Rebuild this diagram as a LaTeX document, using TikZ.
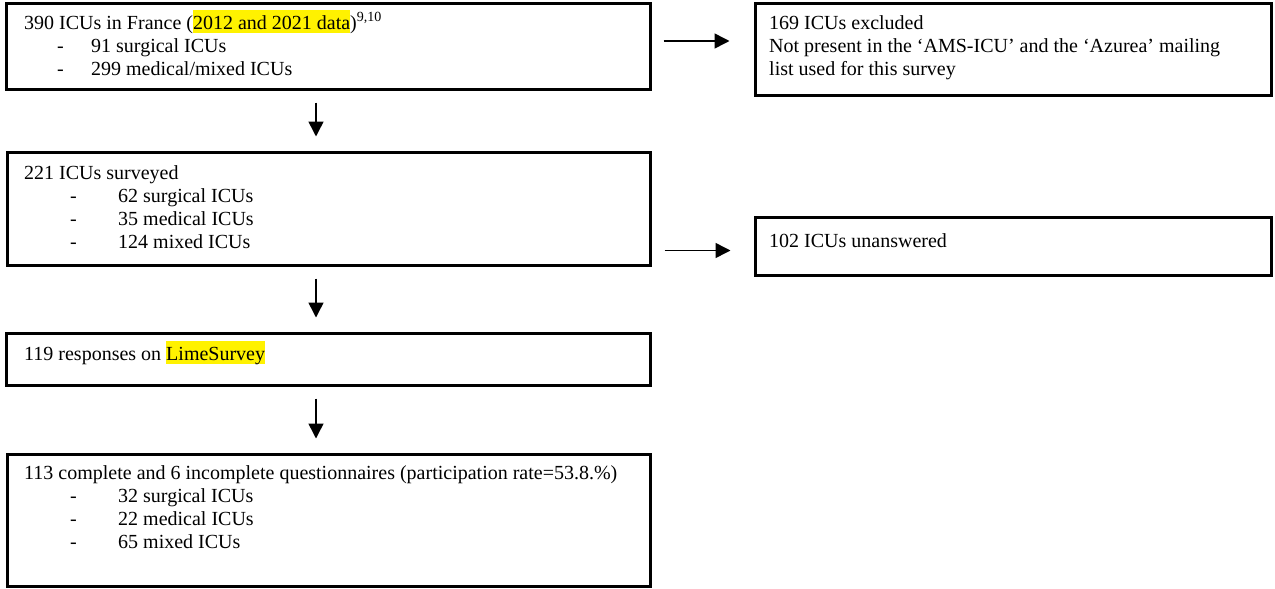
\documentclass[tikz,border=0pt]{standalone}
\usepackage{fontspec}
\setmainfont{Liberation Serif}
\usetikzlibrary{arrows.meta}
\newcommand{\hlyel}[1]{{\setlength{\fboxsep}{0pt}\colorbox{yellow}{\rule[-4pt]{0pt}{23pt}#1}}}
\newcommand{\itemA}[1]{\hspace*{33pt}\makebox[34pt][l]{-}#1}
\newcommand{\itemB}[1]{\hspace*{46pt}\makebox[48pt][l]{-}#1}
\tikzset{
  box/.style={draw, line width=3pt, inner sep=0pt},
  txt/.style={anchor=base west, inner sep=0pt, align=left, font=\fontsize{20}{23}\selectfont},
  arr/.style={line width=1.5pt, -{Triangle[length=15pt,width=15pt]}}
}
\begin{document}
\begin{tikzpicture}[x=1pt,y=-1pt]
\useasboundingbox (0,0) rectangle (1275,589);
\node[box, minimum width=644pt, minimum height=86pt] (b1) at (328,46) {};
\node[box, minimum width=516pt, minimum height=92pt] (b2) at (1013,49) {};
\node[box, minimum width=643pt, minimum height=113pt] (b3) at (328.5,208.5) {};
\node[box, minimum width=516pt, minimum height=58pt] (b4) at (1013,246) {};
\node[box, minimum width=644pt, minimum height=52pt] (b5) at (328,359) {};
\node[box, minimum width=643pt, minimum height=132pt] (b6) at (328.5,520) {};

\node[txt] (t1) at (24,75) {390 ICUs in France (\hlyel{2012 and 2021 data})\textsuperscript{9,10}\\
\itemA{91 surgical ICUs}\\
\itemA{299 medical/mixed ICUs}};
\node[txt] (t2) at (769,75) {169 ICUs excluded\\
Not present in the ‘AMS-ICU’ and the ‘Azurea’ mailing\\
list used for this survey};
\node[txt] (t3) at (24,248) {221 ICUs surveyed\\
\itemB{62 surgical ICUs}\\
\itemB{35 medical ICUs}\\
\itemB{124 mixed ICUs}};
\node[txt] (t4) at (769,247) {102 ICUs unanswered};
\node[txt] (t5) at (24,360) {119 responses on \hlyel{LimeSurvey}};
\node[txt] (t6) at (24,548) {113 complete and 6 incomplete questionnaires (participation rate=53.8.\%)\\
\itemB{32 surgical ICUs}\\
\itemB{22 medical ICUs}\\
\itemB{65 mixed ICUs}};

\draw[arr] ([xshift=12pt,yshift=5pt]b1.east) -- ++(66,0);
\draw[arr] ([xshift=13pt,yshift=-42pt]b3.east) -- ++(66,0);
\draw[arr] ([yshift=-12pt]b1.south -| 316,0) -- ([yshift=14pt]b3.north -| 316,0);
\draw[arr] ([yshift=-12pt]b3.south -| 316,0) -- ([yshift=14pt]b5.north -| 316,0);
\draw[arr] ([yshift=-12pt]b5.south -| 316,0) -- ([yshift=14pt]b6.north -| 316,0);
\end{tikzpicture}
\end{document}
